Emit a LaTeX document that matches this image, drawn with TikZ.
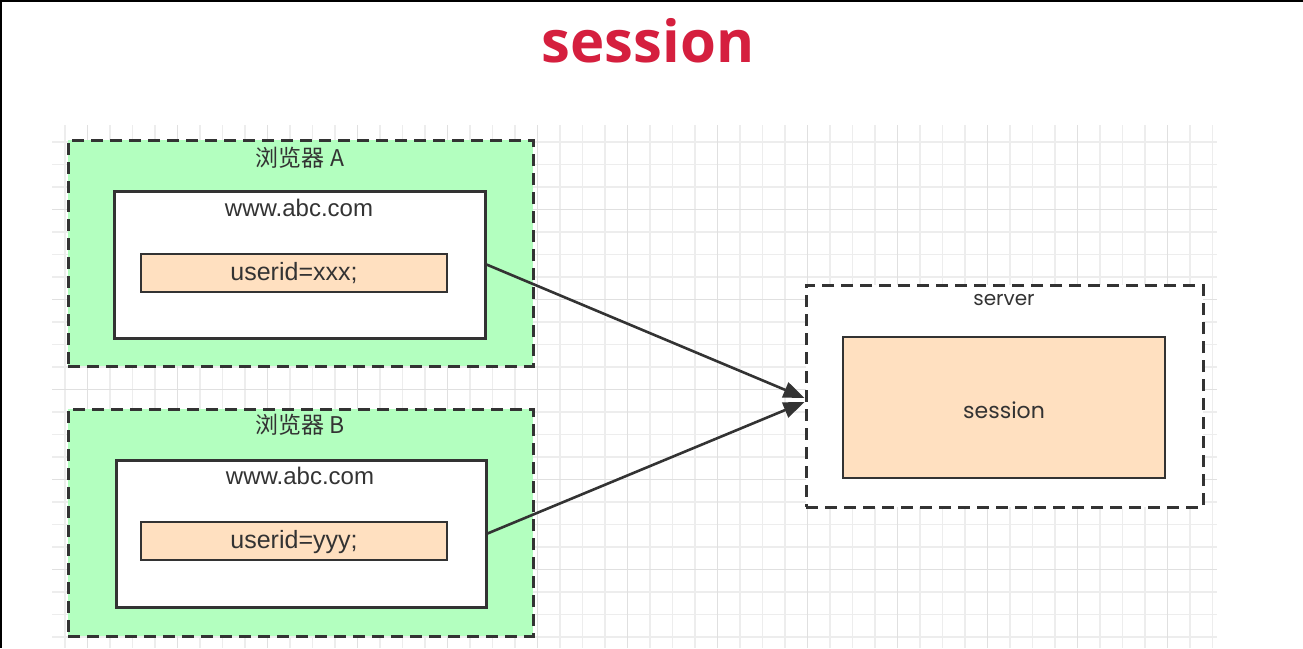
\documentclass[tikz,border=0pt]{standalone}
\usepackage{fontspec}
\setmainfont{Liberation Sans}
\newfontfamily\cjk{Noto Sans CJK SC}
\newfontfamily\pop{Poppins}
\newfontfamily\titlefont{Open Sans}
\usetikzlibrary{arrows.meta}
\definecolor{titlered}{HTML}{D51F3E}
\definecolor{ink}{HTML}{333333}
\definecolor{greenfill}{HTML}{B3FFBF}
\definecolor{peach}{HTML}{FFE0C0}
\definecolor{gridminor}{HTML}{EDEDED}
\definecolor{gridmajor}{HTML}{E0E0E0}
\tikzset{
  minorline/.style={draw=gridminor, line width=1.2pt},
  majorline/.style={draw=gridmajor, line width=1.6pt},
  dashbox/.style={draw=ink, line width=3pt, dash pattern=on 12pt off 7pt, inner sep=0pt, rectangle},
  greenbox/.style={dashbox, fill=greenfill},
  serverbox/.style={dashbox, fill=white},
  whitebox/.style={draw=ink, line width=3pt, fill=white, inner sep=0pt, rectangle},
  peachbox/.style={draw=ink, line width=2.6pt, fill=peach, inner sep=0pt, rectangle},
  lbl/.style={text=ink, inner sep=0pt, font=\fontsize{24}{28}\selectfont},
  idlbl/.style={text=ink, inner sep=0pt, font=\fontsize{25}{28}\selectfont},
  cjklbl/.style={text=ink, inner sep=0pt, font=\cjk\fontsize{23}{26}\selectfont},
  poplbl/.style={text=ink, inner sep=0pt, font=\pop\fontsize{20}{24}\selectfont},
  arr/.style={draw=ink, line width=2.6pt, -{Triangle[length=21pt,width=16pt]}}
}
\begin{document}
\begin{tikzpicture}[x=1pt,y=-1pt]
\useasboundingbox (0,0) rectangle (1303,648);
\fill[white] (0,0) rectangle (1303,648);
\fill[black] (0,0) rectangle (2.2,648);
\fill[black] (0,0) rectangle (1303,1.6);
% grid
\begin{scope}
\clip (52,125) rectangle (1217,648);
\foreach \i in {0,...,51} \draw[minorline] ({65+22.5*\i},125) -- ({65+22.5*\i},648);
\foreach \j in {0,...,22} \draw[minorline] (52,{142+22.5*\j}) -- (1217,{142+22.5*\j});
\foreach \i in {0,...,12} \draw[majorline] ({87.5+90*\i},125) -- ({87.5+90*\i},648);
\foreach \j in {0,...,4} \draw[majorline] (52,{209.5+90*\j}) -- (1217,{209.5+90*\j});
\end{scope}
% title
\node[text=titlered, inner sep=0pt, font=\titlefont\bfseries\fontsize{58}{68}\selectfont] (title) at (648,41) {session};
% browser A
\node[greenbox, minimum width=465pt, minimum height=226pt] (bA) at (300.5,253) {};
\node[whitebox, minimum width=371pt, minimum height=147pt] (wA) at (299.5,264.5) {};
\node[peachbox, minimum width=306pt, minimum height=38pt] (pA) at (294,273) {};
\node[cjklbl] (tA) at (300,158) {浏览器 A};
\node[lbl] (uA) at (299,208) {www.abc.com};
\node[idlbl] (cA) at (294,273) {userid=xxx;};
% browser B
\node[greenbox, minimum width=465pt, minimum height=227pt] (bB) at (300.5,522.5) {};
\node[whitebox, minimum width=370pt, minimum height=147pt] (wB) at (301,533.5) {};
\node[peachbox, minimum width=306pt, minimum height=38pt] (pB) at (294,541) {};
\node[cjklbl] (tB) at (300,425) {浏览器 B};
\node[lbl] (uB) at (300,476) {www.abc.com};
\node[idlbl] (cB) at (294,542) {userid=yyy;};
% server
\node[serverbox, minimum width=397pt, minimum height=222pt] (srv) at (1004.5,396) {};
\node[peachbox, minimum width=322pt, minimum height=141pt] (ses) at (1004,407.5) {};
\node[poplbl] (tS) at (1004,300) {server};
\node[poplbl, font=\pop\fontsize{22}{26}\selectfont] (sS) at (1004,410) {session};
% arrows
\draw[arr] (wA.east) -- ([yshift=-2pt]srv.west);
\draw[arr] (wB.east) -- ([yshift=-6pt]srv.west);
\end{tikzpicture}
\end{document}
